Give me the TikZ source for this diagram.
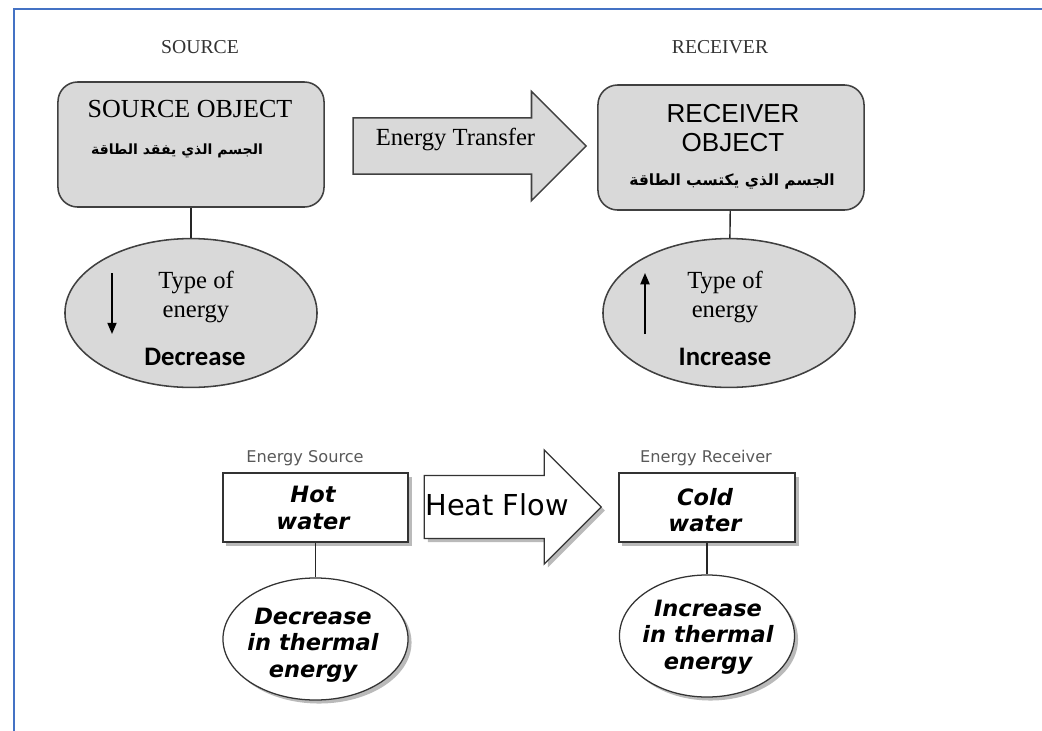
\documentclass[tikz,border=0pt]{standalone}
\usepackage{fontspec}
\usetikzlibrary{shapes.geometric, shapes.arrows, shadows, arrows.meta}
\setmainfont{Liberation Serif}
\newfontfamily\arialfont{Liberation Sans}
\newfontfamily\calibrifont{Carlito}
\newfontfamily\comicfont{DejaVu Sans}
\newfontfamily\arabicfont[Script=Arabic]{DejaVu Sans}
\TeXXeTstate=1
\definecolor{framebl}{HTML}{4472C4}
\definecolor{boxgray}{HTML}{D9D9D9}

\tikzset{
  toplbl/.style={font=\fontsize{14}{16}\selectfont, text=black!80},
  arabtxt/.style={font=\arabicfont\bfseries\fontsize{11}{13}\selectfont},
  smalllbl/.style={font=\comicfont\fontsize{11.5}{13}\selectfont, text=black!65},
  comictxt/.style={font=\comicfont\bfseries\itshape\fontsize{16}{19}\selectfont, align=center},
  shade/.style={drop shadow={shadow xshift=2.5pt, shadow yshift=-2.5pt, fill=black!45, opacity=0.6}}
}

\begin{document}
\begin{tikzpicture}[x=0.025cm, y=-0.025cm,
  objbox/.style={rectangle, draw=black!75, line width=1.1pt, fill=boxgray, rounded corners=14pt,
    minimum width=6.65cm, minimum height=3.125cm},
  kindell/.style={ellipse, draw=black!75, line width=1.1pt, fill=boxgray,
    minimum width=6.3cm, minimum height=3.72cm},
  waterbox/.style={rectangle, draw=black!80, line width=0.9pt, fill=white, shade,
    minimum height=1.725cm},
  heatell/.style={ellipse, draw=black!80, line width=0.9pt, fill=white, shade,
    minimum height=3.05cm, inner sep=0pt},
  link/.style={draw=black!85, line width=1pt}]

  \useasboundingbox (0,0) rectangle (1042,731);
  \draw[framebl, line width=1.6pt] (14,731) -- (14,9) -- (1042,9);

  % upper diagram
  \node[toplbl] (srclbl) at (200,47) {SOURCE};
  \node[toplbl] (rcvlbl) at (720,47) {RECEIVER};

  \node[objbox] (srcobj) at (191,144.5) {};
  \node[objbox] (rcvobj) at (731,147.5) {};
  \node[font=\fontsize{18.5}{20}\selectfont] (srctitle) at (190,109) {SOURCE OBJECT};
  \node[arabtxt, font=\arabicfont\bfseries\fontsize{10}{12}\selectfont] (srcarab) at (177,151) {\beginR الجسم الذي يفقد الطاقة\endR};
  \node[font=\arialfont\fontsize{18.5}{20.6}\selectfont, align=center] (rcvtitle) at (733,128) {RECEIVER\\OBJECT};
  \node[arabtxt] (rcvarab) at (732,182) {\beginR الجسم الذي يكتسب  الطاقة\endR};

  \node[single arrow, draw=black!75, line width=1.1pt, fill=boxgray, inner sep=0pt,
    single arrow head extend=18.8pt, single arrow head indent=0pt,
    minimum height=5.825cm, text height=18.8pt, text depth=20.2pt,
    font=\fontsize{17.5}{19}\selectfont] (transfer) at (455.5,146) {Energy Transfer};

  \node[kindell] (srckind) at (191,313) {};
  \node[kindell] (rcvkind) at (729,313) {};
  \draw[link] (srcobj) -- (srckind);
  \draw[link] (rcvobj) -- (rcvkind);

  \node[font=\fontsize{17.5}{20}\selectfont, align=center] (srctype) at (196,297) {Type of\\energy};
  \node[font=\calibrifont\bfseries\fontsize{19}{21}\selectfont] (srcdec) at (195,357) {Decrease};
  \node[font=\fontsize{17.5}{20}\selectfont, align=center] (rcvtype) at (725,297) {Type of\\energy};
  \node[font=\calibrifont\bfseries\fontsize{19}{21}\selectfont] (rcvinc) at (725,357) {Increase};

  \coordinate (dntop) at (112,273);
  \coordinate (dnend) at (112,334);
  \coordinate (uptop) at (645,273);
  \coordinate (upend) at (645,334);
  \draw[line width=1.1pt, -{Triangle[length=8pt, width=6.5pt]}] (dntop) -- (dnend);
  \draw[line width=1.1pt, -{Triangle[length=8pt, width=6.5pt]}] (upend) -- (uptop);

  % lower diagram
  \node[smalllbl] (hotlbl) at (305,458) {Energy Source};
  \node[smalllbl] (coldlbl) at (706,458) {Energy Receiver};

  \node[waterbox, minimum width=4.625cm] (hot) at (315.5,507.5) {};
  \node[waterbox, minimum width=4.4cm] (cold) at (707,507.5) {};
  \node[comictxt] (hottxt) at (313,508) {Hot\\water};
  \node[comictxt] (coldtxt) at (705,510) {Cold\\water};

  \node[single arrow, draw=black!80, line width=0.9pt, fill=white, shade, inner sep=0pt,
    single arrow head extend=18.1pt, single arrow head indent=0pt,
    minimum height=4.425cm, text height=27.7pt, text depth=16.3pt,
    font=\comicfont\fontsize{20.5}{22}\selectfont] (heat) at (497,507) {Heat Flow};

  \node[heatell, minimum width=4.625cm] (hotell) at (315.5,639) {};
  \node[heatell, minimum width=4.375cm] (coldell) at (707,636) {};
  \draw[link] (hot) -- (hotell);
  \draw[link] (cold) -- (coldell);

  \node[comictxt] (hotdec) at (313,645) {Decrease\\in thermal\\energy};
  \node[comictxt] (coldinc) at (708,637) {Increase\\in thermal\\energy};
\end{tikzpicture}
\end{document}
